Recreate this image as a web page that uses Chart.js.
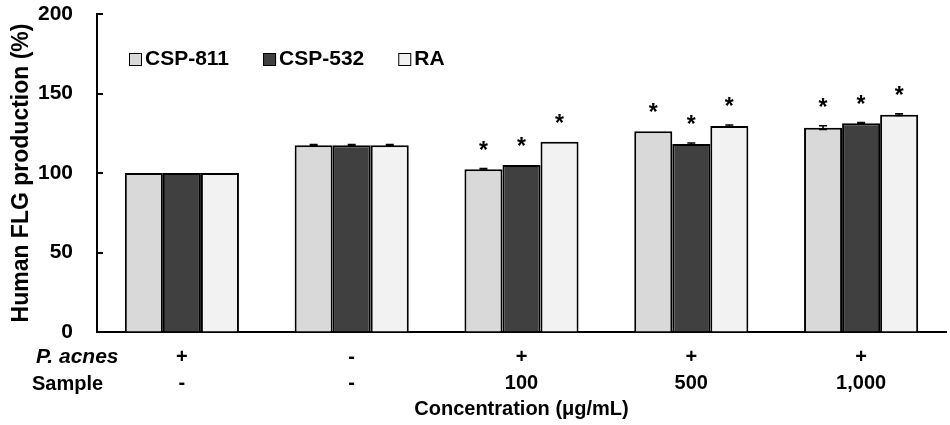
<!DOCTYPE html>
<html>
<head>
<meta charset="utf-8">
<script src="https://cdn.jsdelivr.net/npm/chart.js@4.4.1/dist/chart.umd.min.js"></script>
<style>
html,body{margin:0;padding:0;background:#fff;}
#wrap{width:950px;height:425px;position:relative;}
</style>
</head>
<body>
<div id="wrap"><canvas id="c"></canvas></div>
<script>
// ---- data ----
const pAcnesRow = ['+', '-', '+', '+', '+'];
const sampleRow = ['-', '-', '100', '500', '1,000'];
const seriesNames = ['CSP-811', 'CSP-532', 'RA'];
const csp811 = [100, 117.5, 102.3, 126.2, 128.5];
const csp532 = [100, 117.5, 105.0, 118.2, 131.3];
const ra     = [100, 117.5, 119.7, 129.6, 136.7];
const err811 = [0, 0.5, 0.5, 0, 1.2];
const err532 = [0, 0.5, 0, 0.7, 0.4];
const errRA  = [0, 0.5, 0, 0.6, 0.5];
const sig811 = [0, 0, 1, 1, 1];
const sig532 = [0, 0, 1, 1, 1];
const sigRA  = [0, 0, 1, 1, 1];
const yTicks = [0, 50, 100, 150, 200];
const yTitle = 'Human FLG production (%)';
const xTitle = 'Concentration (\u03bcg/mL)';
const rowHeaders = ['P. acnes', 'Sample'];

const colors = ['#d9d9d9', '#404040', '#f2f2f2'];
const BOLD = "'Liberation Sans', Arial, sans-serif";

const labels = pAcnesRow.map((p, i) => [p, sampleRow[i]]);
const values = [csp811, csp532, ra];
const errs = [err811, err532, errRA];
const sigs = [sig811, sig532, sigRA];

const extras = {
  id: 'extras',
  afterDatasetsDraw(chart) {
    const ctx = chart.ctx;
    const y = chart.scales.y;
    const area = chart.chartArea;
    ctx.save();
    // inward y ticks
    ctx.strokeStyle = '#000';
    ctx.lineWidth = 2;
    yTicks.forEach(v => {
      const py = Math.round(y.getPixelForValue(v));
      ctx.beginPath();
      ctx.moveTo(area.left, py);
      ctx.lineTo(area.left + 6, py);
      ctx.stroke();
    });
    // error bars and stars
    chart.data.datasets.forEach((ds, di) => {
      const meta = chart.getDatasetMeta(di);
      meta.data.forEach((bar, i) => {
        const v = ds.data[i];
        const e = errs[di][i];
        const cx = bar.x;
        if (e > 0) {
          const yt = y.getPixelForValue(v + e);
          const yb = y.getPixelForValue(v - e);
          ctx.lineWidth = 1.5;
          ctx.beginPath();
          ctx.moveTo(cx, yt); ctx.lineTo(cx, yb);
          ctx.moveTo(cx - 4, yt); ctx.lineTo(cx + 4, yt);
          ctx.moveTo(cx - 4, yb); ctx.lineTo(cx + 4, yb);
          ctx.stroke();
        }
        if (sigs[di][i]) {
          const top = y.getPixelForValue(v + e);
          const starCenter = top - 24;
          ctx.fillStyle = '#000';
          ctx.font = "bold 23px " + BOLD;
          ctx.textAlign = 'center';
          ctx.textBaseline = 'alphabetic';
          ctx.fillText('*', cx, starCenter + 13);
        }
      });
    });
    // legend inside plot
    ctx.font = "bold 21px " + BOLD;
    ctx.textAlign = 'left';
    ctx.textBaseline = 'middle';
    let lx = area.left + 32;
    const ly = 59;
    chart.data.datasets.forEach((ds, di) => {
      ctx.fillStyle = colors[di];
      ctx.fillRect(lx, ly - 6, 13, 13);
      ctx.strokeStyle = '#000';
      ctx.lineWidth = 1;
      ctx.strokeRect(lx + 0.5, ly - 5.5, 12, 12);
      ctx.fillStyle = '#000';
      ctx.fillText(ds.label, lx + 16, ly);
      lx += 16 + ctx.measureText(ds.label).width + 34;
    });
    // row headers
    ctx.textAlign = 'left';
    ctx.font = "italic bold 21px " + BOLD;
    ctx.fillText(rowHeaders[0], 36, 357);
    ctx.font = "bold 20px " + BOLD;
    ctx.fillText(rowHeaders[1], 32, 384);
    ctx.restore();
  }
};

new Chart(document.getElementById('c'), {
  type: 'bar',
  data: {
    labels: labels,
    datasets: seriesNames.map((n, i) => ({
      label: n,
      data: values[i],
      backgroundColor: colors[i],
      borderColor: '#000',
      borderWidth: 2,
      categoryPercentage: 0.672,
      barPercentage: 1.0
    }))
  },
  options: {
    responsive: true,
    maintainAspectRatio: false,
    animation: false,
    devicePixelRatio: 1,
    layout: { padding: { left: 0, right: 4, top: 14, bottom: 0 } },
    plugins: { legend: { display: false }, tooltip: { enabled: false } },
    scales: {
      x: {
        grid: { display: false, drawTicks: false },
        border: { display: true, color: '#000', width: 2 },
        ticks: {
          color: '#000', padding: 12, maxRotation: 0, autoSkip: false,
          font: { family: BOLD, size: 20, weight: 'bold', lineHeight: 1.3 }
        },
        title: {
          display: true, text: xTitle, color: '#000',
          padding: { top: 0, bottom: 4 },
          font: { family: BOLD, size: 20, weight: 'bold', lineHeight: 1.2 }
        },
        afterFit(s) { s.height = 93; }
      },
      y: {
        min: 0, max: 200,
        afterBuildTicks(s) { s.ticks = yTicks.map(v => ({ value: v })); },
        grid: { drawOnChartArea: false, drawTicks: true, tickLength: 24, tickColor: 'rgba(0,0,0,0)' },
        border: { display: true, color: '#000', width: 2 },
        ticks: {
          color: '#000', padding: 0,
          font: { family: BOLD, size: 21, weight: 'bold' }
        },
        title: {
          display: true, text: yTitle, color: '#000',
          padding: { top: 8, bottom: 0 },
          font: { family: BOLD, size: 23, weight: 'bold', lineHeight: 1.2 }
        },
        afterFit(s) { s.width = 97; }
      }
    }
  },
  plugins: [extras]
});
</script>
</body>
</html>
